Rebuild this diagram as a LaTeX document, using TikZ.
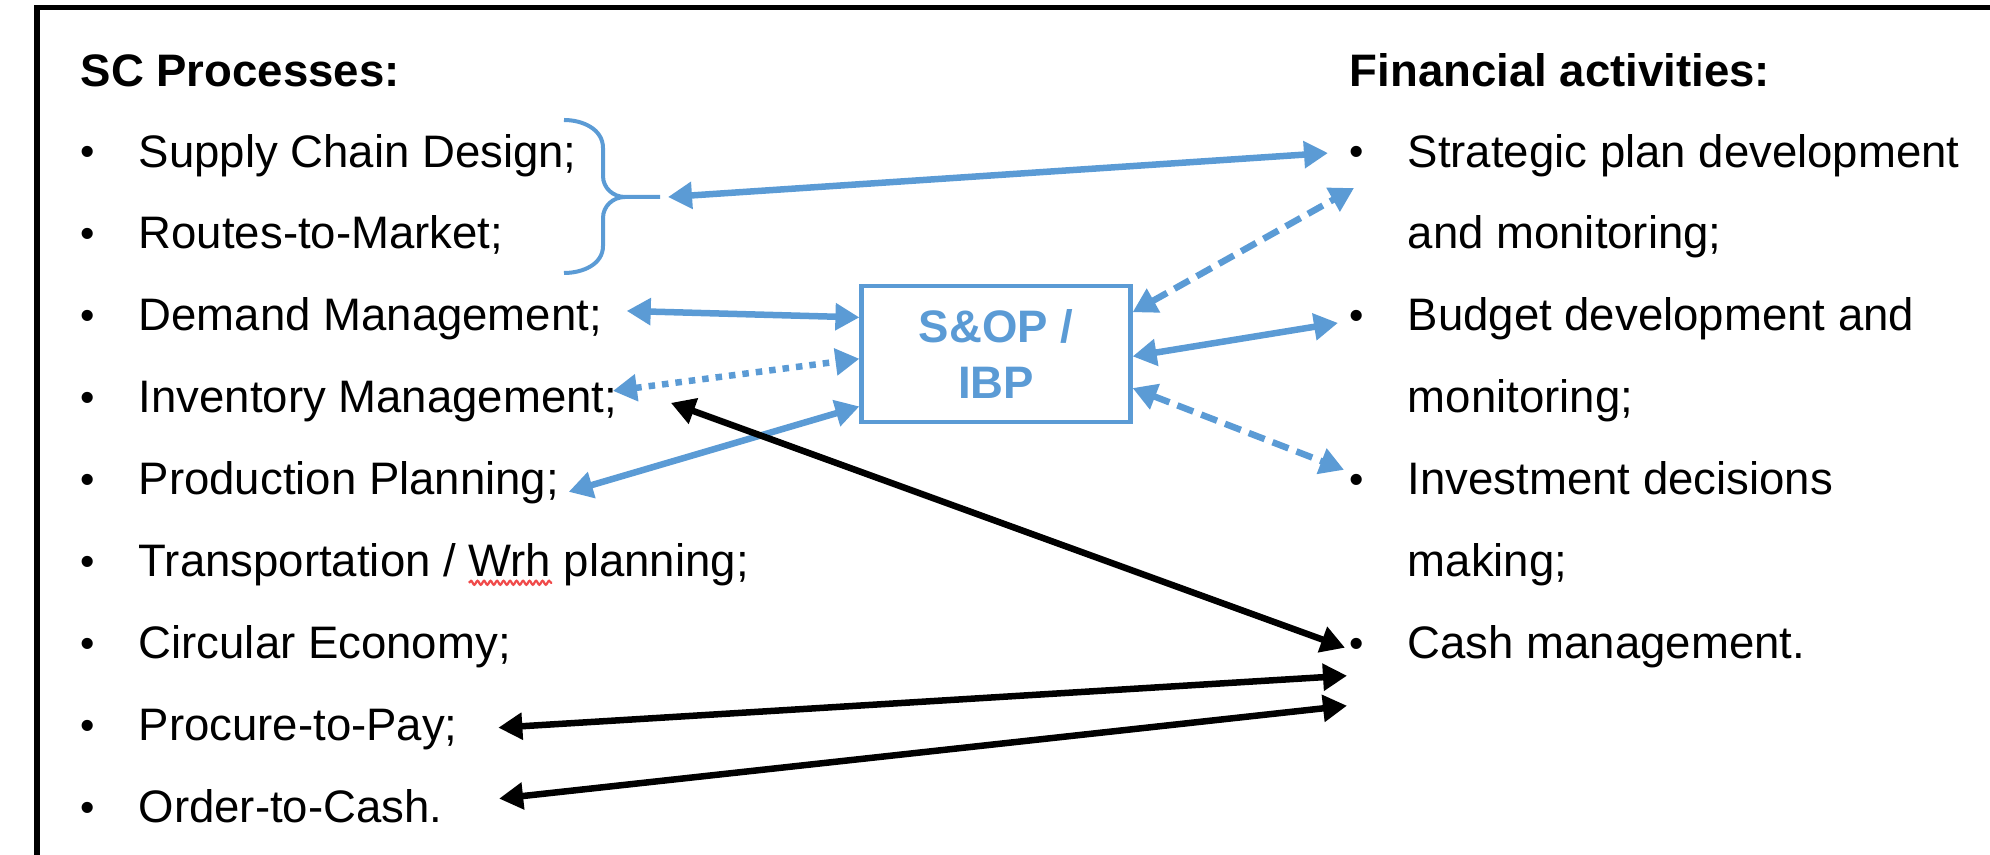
\documentclass[tikz,border=0pt]{standalone}
\usepackage{fontspec}
\setmainfont{Liberation Sans}
\usepackage{xcolor}
\definecolor{sopblue}{HTML}{5B9BD5}
\definecolor{spellred}{HTML}{F04A4A}
\usepackage{tikz}
\usetikzlibrary{arrows.meta, positioning, decorations.pathmorphing}
\newcommand{\bul}{\makebox[0.58cm][l]{\raisebox{0.015cm}{\scalebox{0.9}{\textbullet}}}}
\newcommand{\nobul}{\hspace*{0.58cm}}

\begin{document}
\begin{tikzpicture}[
    x=0.01cm, y=-0.01cm,
    font=\fontsize{12.95}{15.5}\selectfont,
    >={Triangle[length=0.24cm, width=0.26cm]},
    item/.style={inner sep=0pt, anchor=base west},
    head/.style={item, font=\fontsize{12.95}{15.5}\selectfont\bfseries},
    hub/.style={rectangle, draw=sopblue, line width=0.045cm, minimum width=2.685cm, minimum height=1.355cm, align=center, font=\fontsize{12.95}{15.9}\selectfont\bfseries, text=sopblue},
    link/.style={<->, line width=0.065cm, color=sopblue},
    dotlink/.style={link, dash pattern=on 0.065cm off 0.07cm},
    dashlink/.style={link, dash pattern=on 0.17cm off 0.085cm},
    cash/.style={<->, line width=0.065cm, color=black},
]
    \path[use as bounding box] (0,0) rectangle (1990,855);
    \clip (0,0) rectangle (1990,855);
    \draw[line width=0.05cm] (37,8) rectangle (2100,950);

    % SC processes
    \node[head] (sc0) at (80,87) {SC Processes:};
    \node[item, below=0.80cm of sc0.base west, anchor=base west] (sc1) {\bul Supply Chain Design;};
    \node[item, below=0.819cm of sc1.base west, anchor=base west] (sc2) {\bul Routes-to-Market;};
    \node[item, below=0.819cm of sc2.base west, anchor=base west] (sc3) {\bul Demand Management;};
    \node[item, below=0.819cm of sc3.base west, anchor=base west] (sc4) {\bul Inventory Management;};
    \node[item, below=0.819cm of sc4.base west, anchor=base west] (sc5) {\bul Production Planning;};
    \node[item, below=0.819cm of sc5.base west, anchor=base west] (sc6) {\bul Transportation / Wrh planning;};
    \node[item, below=0.819cm of sc6.base west, anchor=base west] (sc7) {\bul Circular Economy;};
    \node[item, below=0.819cm of sc7.base west, anchor=base west] (sc8) {\bul Procure-to-Pay;};
    \node[item, below=0.819cm of sc8.base west, anchor=base west] (sc9) {\bul Order-to-Cash.};

    % Financial activities
    \node[head] (fa0) at (1349,87) {Financial activities:};
    \node[item, below=0.80cm of fa0.base west, anchor=base west] (fa1) {\bul Strategic plan development};
    \node[item, below=0.819cm of fa1.base west, anchor=base west] (fa1x) {\nobul and monitoring;};
    \node[item, below=0.819cm of fa1x.base west, anchor=base west] (fa2) {\bul Budget development and};
    \node[item, below=0.819cm of fa2.base west, anchor=base west] (fa2x) {\nobul monitoring;};
    \node[item, below=0.819cm of fa2x.base west, anchor=base west] (fa3) {\bul Investment decisions};
    \node[item, below=0.819cm of fa3.base west, anchor=base west] (fa3x) {\nobul making;};
    \node[item, below=0.819cm of fa3x.base west, anchor=base west] (fa4) {\bul Cash management.};

    \node[hub] (sop) at (996,354) {S\&OP /\\IBP};

    % brace round the design processes
    \draw[sopblue, line width=0.04cm] (564,120) to[out=0, in=90] (603,148) -- (603,176) to[out=-90, in=180] (625,197) -- (660,197)
        (625,197) to[out=180, in=90] (603,218) -- (603,246) to[out=-90, in=0] (564,273);
    \coordinate (brtip) at (660,197);

    % spelling mark
    \draw[spellred, line width=0.022cm, decorate, decoration={snake, amplitude=0.02cm, segment length=0.065cm}]
        ([shift={(389,6)}]sc6.base west) -- ([shift={(472,6)}]sc6.base west);

    \draw[link] ([xshift=0.08cm]brtip) -- ([shift={(-21,-14)}]fa1.base west);
    \draw[link] ([shift={(24,-20)}]sc3.base east) -- (sop.165);
    \draw[dotlink] ([shift={(-5,-22)}]sc4.base east) -- (sop.182);
    \draw[link] ([shift={(9,-3)}]sc5.base east) -- (sop.201);
    \draw[dashlink] (sop.17) -- ([shift={(5,21)}]fa1.base west);
    \draw[link] (sop.-1) -- ([shift={(-11,-8)}]fa2.base west);
    \draw[dashlink] (sop.-14) -- ([shift={(-5,-25)}]fa3.base west);

    % cash flows
    \draw[cash] ([shift={(53,-10)}]sc4.base east) -- ([shift={(-4,-11)}]fa4.base west);
    \draw[cash] ([shift={(40,-13)}]sc8.base east) -- ([shift={(-2,17)}]fa4.base west);
    \draw[cash] ([shift={(56,-24)}]sc9.base east) -- ([shift={(-2,47)}]fa4.base west);
\end{tikzpicture}
\end{document}
